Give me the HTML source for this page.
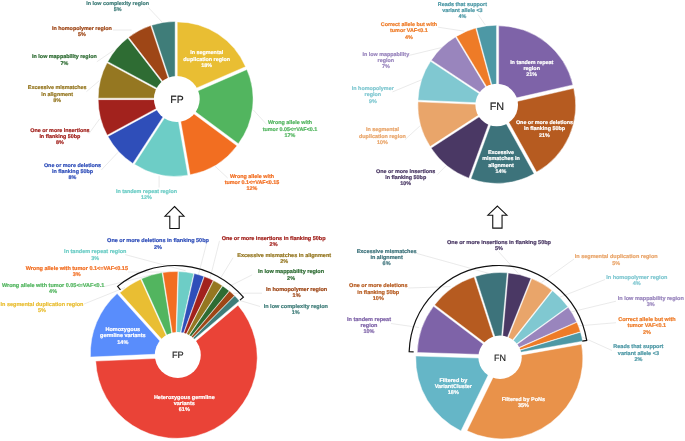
<!DOCTYPE html>
<html><head><meta charset="utf-8"><style>
html,body{margin:0;padding:0;background:#fff;}
body{width:685px;height:441px;overflow:hidden;}
svg{display:block;will-change:transform;}
text{font-family:"Liberation Sans",sans-serif;font-weight:bold;text-rendering:geometricPrecision;}
</style></head><body>
<svg width="685" height="441" viewBox="0 0 685 441">
<rect width="685" height="441" fill="#fff"/>
<polyline points="148.3,7.4 162.2,22.2" fill="none" stroke="#d9d9d9" stroke-width="0.55"/><polyline points="113,30 131.5,30" fill="none" stroke="#d9d9d9" stroke-width="0.55"/><polyline points="96.8,61.8 113.8,50.2" fill="none" stroke="#d9d9d9" stroke-width="0.55"/><polyline points="86.5,91.6 99.3,80.7" fill="none" stroke="#d9d9d9" stroke-width="0.55"/><polyline points="88.8,133.8 99.7,118.8" fill="none" stroke="#d9d9d9" stroke-width="0.55"/><polyline points="101.3,170.0 118,152.3" fill="none" stroke="#d9d9d9" stroke-width="0.55"/><polyline points="159.1,187.5 159.1,175.8" fill="none" stroke="#d9d9d9" stroke-width="0.55"/><polyline points="227.7,178 215,166.2" fill="none" stroke="#d9d9d9" stroke-width="0.55"/><polyline points="266.7,124.5 253.4,110" fill="none" stroke="#d9d9d9" stroke-width="0.55"/><polyline points="478,14.5 485.3,25" fill="none" stroke="#d9d9d9" stroke-width="0.55"/><polyline points="438.1,27.2 464.4,31.2" fill="none" stroke="#d9d9d9" stroke-width="0.55"/><polyline points="409.1,55.4 441.7,47.5" fill="none" stroke="#d9d9d9" stroke-width="0.55"/><polyline points="392.5,91.9 421.1,80" fill="none" stroke="#d9d9d9" stroke-width="0.55"/><polyline points="404.9,139.7 419.9,126" fill="none" stroke="#d9d9d9" stroke-width="0.55"/><polyline points="437.3,174.6 446,165.8" fill="none" stroke="#d9d9d9" stroke-width="0.55"/><polyline points="206.5,243.8 198.4,274.8" fill="none" stroke="#d9d9d9" stroke-width="0.55"/><polyline points="219.5,240.9 210.2,277.7" fill="none" stroke="#d9d9d9" stroke-width="0.55"/><polyline points="233,257.8 220,279" fill="none" stroke="#d9d9d9" stroke-width="0.55"/><polyline points="252.2,274.8 229,286.5" fill="none" stroke="#d9d9d9" stroke-width="0.55"/><polyline points="262,293.2 233,293.2" fill="none" stroke="#d9d9d9" stroke-width="0.55"/><polyline points="260,306.5 240,300.5" fill="none" stroke="#d9d9d9" stroke-width="0.55"/><polyline points="125.2,254.6 185.7,270.8" fill="none" stroke="#d9d9d9" stroke-width="0.55"/><polyline points="128,272 170.5,272" fill="none" stroke="#d9d9d9" stroke-width="0.55"/><polyline points="104.5,286.5 151.7,274.8" fill="none" stroke="#d9d9d9" stroke-width="0.55"/><polyline points="84,304 125,287.5" fill="none" stroke="#d9d9d9" stroke-width="0.55"/><polyline points="416.3,253.3 489.8,273.7" fill="none" stroke="#d9d9d9" stroke-width="0.55"/><polyline points="408.2,288 450.5,286.6" fill="none" stroke="#d9d9d9" stroke-width="0.55"/><polyline points="391,323.5 419,327.5" fill="none" stroke="#d9d9d9" stroke-width="0.55"/><polyline points="498.4,251.4 518.3,273.5" fill="none" stroke="#d9d9d9" stroke-width="0.55"/><polyline points="574,259 541.4,282.5" fill="none" stroke="#d9d9d9" stroke-width="0.55"/><polyline points="605,279.5 559.8,297.2" fill="none" stroke="#d9d9d9" stroke-width="0.55"/><polyline points="616,301.2 570.9,312" fill="none" stroke="#d9d9d9" stroke-width="0.55"/><polyline points="616,322.7 577,326" fill="none" stroke="#d9d9d9" stroke-width="0.55"/><polyline points="612,350.5 581,336.5" fill="none" stroke="#d9d9d9" stroke-width="0.55"/>
<path d="M177.24,96.39L177.24,21.89A74.5,74.5 0 0 1 245.57,66.68Z" fill="#E9BE33" stroke="#fff" stroke-width="0.45"/>
<path d="M178.58,99.24L246.90,69.54A74.5,74.5 0 0 1 238.39,143.66Z" fill="#52B55F" stroke="#fff" stroke-width="0.45"/>
<path d="M177.18,101.45L236.99,145.87A74.5,74.5 0 0 1 190.11,174.82Z" fill="#F26E21" stroke="#fff" stroke-width="0.45"/>
<path d="M175.00,101.84L187.94,175.21A74.5,74.5 0 0 1 134.43,164.32Z" fill="#6DCDC6" stroke="#fff" stroke-width="0.45"/>
<path d="M173.40,100.94L132.82,163.42A74.5,74.5 0 0 1 107.93,136.48Z" fill="#2F4EB9" stroke="#fff" stroke-width="0.45"/>
<path d="M172.69,99.64L107.22,135.19A74.5,74.5 0 0 1 98.19,99.64Z" fill="#A2221D" stroke="#fff" stroke-width="0.45"/>
<path d="M172.69,98.17L98.19,98.17A74.5,74.5 0 0 1 107.10,62.85Z" fill="#957721" stroke="#fff" stroke-width="0.45"/>
<path d="M173.31,96.96L107.72,61.64A74.5,74.5 0 0 1 127.75,38.01Z" fill="#2E6C33" stroke="#fff" stroke-width="0.45"/>
<path d="M174.19,96.25L128.63,37.31A74.5,74.5 0 0 1 150.67,25.56Z" fill="#9E4616" stroke="#fff" stroke-width="0.45"/>
<path d="M175.12,95.94L151.60,25.25A74.5,74.5 0 0 1 175.12,21.44Z" fill="#3F7D79" stroke="#fff" stroke-width="0.45"/>
<circle cx="176.8" cy="99" r="22.9" fill="#fff"/>
<text x="176.95" y="103" font-size="10.4" fill="#1e1e1e" stroke="#1e1e1e" stroke-width="0.15" text-anchor="middle" style="font-weight:normal">FP</text>
<path d="M498.66,102.03L498.66,25.83A76.2,76.2 0 0 1 572.90,84.89Z" fill="#7E63A8" stroke="#fff" stroke-width="0.45"/>
<path d="M499.50,105.48L573.75,88.34A76.2,76.2 0 0 1 536.56,172.06Z" fill="#B65B20" stroke="#fff" stroke-width="0.45"/>
<path d="M497.08,107.19L534.14,173.77A76.2,76.2 0 0 1 470.89,178.75Z" fill="#3D737B" stroke="#fff" stroke-width="0.45"/>
<path d="M495.04,106.57L468.86,178.13A76.2,76.2 0 0 1 431.14,148.07Z" fill="#4A3864" stroke="#fff" stroke-width="0.45"/>
<path d="M494.05,105.07L430.15,146.57A76.2,76.2 0 0 1 417.92,101.87Z" fill="#E9A56A" stroke="#fff" stroke-width="0.45"/>
<path d="M494.09,103.41L417.96,100.22A76.2,76.2 0 0 1 430.55,61.35Z" fill="#80C8D1" stroke="#fff" stroke-width="0.45"/>
<path d="M494.84,102.21L431.30,60.15A76.2,76.2 0 0 1 455.48,36.96Z" fill="#9985BD" stroke="#fff" stroke-width="0.45"/>
<path d="M495.71,101.63L456.35,36.39A76.2,76.2 0 0 1 475.73,28.10Z" fill="#EE7B27" stroke="#fff" stroke-width="0.45"/>
<path d="M496.47,101.43L476.49,27.89A76.2,76.2 0 0 1 496.47,25.23Z" fill="#4D98A5" stroke="#fff" stroke-width="0.45"/>
<circle cx="496.7" cy="105" r="21.3" fill="#fff"/>
<text x="496.95" y="109.7" font-size="10.8" fill="#1e1e1e" stroke="#1e1e1e" stroke-width="0.15" text-anchor="middle" style="font-weight:normal">FN</text>
<path d="M173.90,352.80L119.84,292.76A80.8,80.8 0 0 1 140.65,279.16Z" fill="#E9BE33" stroke="#fff" stroke-width="0.45"/>
<path d="M174.71,352.43L141.46,278.79A80.8,80.8 0 0 1 162.07,272.62Z" fill="#52B55F" stroke="#fff" stroke-width="0.45"/>
<path d="M175.41,352.31L162.77,272.50A80.8,80.8 0 0 1 177.94,271.55Z" fill="#F26E21" stroke="#fff" stroke-width="0.45"/>
<path d="M175.99,352.32L178.53,271.56A80.8,80.8 0 0 1 193.75,273.50Z" fill="#6DCDC6" stroke="#fff" stroke-width="0.45"/>
<path d="M176.47,352.42L194.23,273.60A80.8,80.8 0 0 1 203.97,276.45Z" fill="#2F4EB9" stroke="#fff" stroke-width="0.45"/>
<path d="M176.83,352.55L204.33,276.58A80.8,80.8 0 0 1 213.26,280.43Z" fill="#A2221D" stroke="#fff" stroke-width="0.45"/>
<path d="M177.17,352.73L213.60,280.61A80.8,80.8 0 0 1 222.35,285.74Z" fill="#957721" stroke="#fff" stroke-width="0.45"/>
<path d="M177.46,352.92L222.65,285.94A80.8,80.8 0 0 1 229.29,290.94Z" fill="#2E6C33" stroke="#fff" stroke-width="0.45"/>
<path d="M177.69,353.11L229.52,291.12A80.8,80.8 0 0 1 234.52,295.67Z" fill="#9E4616" stroke="#fff" stroke-width="0.45"/>
<path d="M177.87,353.29L234.71,295.86A80.8,80.8 0 0 1 239.41,300.92Z" fill="#3F7D79" stroke="#fff" stroke-width="0.45"/>
<path d="M176.44,357.54L237.97,305.17A80.8,80.8 0 1 1 95.72,361.07Z" fill="#EA4337" stroke="#fff" stroke-width="0.45"/>
<path d="M171.17,353.54L90.45,357.07A80.8,80.8 0 0 1 117.11,293.50Z" fill="#598DFC" stroke="#fff" stroke-width="0.45"/>
<circle cx="177.8" cy="355" r="23" fill="#fff"/>
<text x="177.75" y="357.9" font-size="9.2" fill="#1e1e1e" stroke="#1e1e1e" stroke-width="0.15" text-anchor="middle" style="font-weight:normal">FP</text>
<path d="M497.67,355.00L417.21,352.47A80.5,80.5 0 0 1 433.55,306.33Z" fill="#7E63A8" stroke="#fff" stroke-width="0.45"/>
<path d="M498.77,353.55L434.64,304.88A80.5,80.5 0 0 1 474.09,276.93Z" fill="#B65B20" stroke="#fff" stroke-width="0.45"/>
<path d="M500.17,353.02L475.49,276.39A80.5,80.5 0 0 1 507.24,272.83Z" fill="#3D737B" stroke="#fff" stroke-width="0.45"/>
<path d="M501.19,353.08L508.27,272.89A80.5,80.5 0 0 1 530.96,278.29Z" fill="#4A3864" stroke="#fff" stroke-width="0.45"/>
<path d="M502.00,353.40L531.76,278.61A80.5,80.5 0 0 1 551.89,290.23Z" fill="#E9A56A" stroke="#fff" stroke-width="0.45"/>
<path d="M502.67,353.92L552.56,290.75A80.5,80.5 0 0 1 567.87,306.72Z" fill="#80C8D1" stroke="#fff" stroke-width="0.45"/>
<path d="M503.10,354.50L568.31,307.30A80.5,80.5 0 0 1 576.70,321.89Z" fill="#9985BD" stroke="#fff" stroke-width="0.45"/>
<path d="M503.31,354.96L576.91,322.35A80.5,80.5 0 0 1 580.42,331.83Z" fill="#EE7B27" stroke="#fff" stroke-width="0.45"/>
<path d="M503.42,355.30L580.52,332.17A80.5,80.5 0 0 1 582.67,341.19Z" fill="#4D98A5" stroke="#fff" stroke-width="0.45"/>
<path d="M502.31,358.39L581.56,344.28A80.5,80.5 0 0 1 467.02,430.75Z" fill="#E9924A" stroke="#fff" stroke-width="0.45"/>
<path d="M496.22,358.58L460.93,430.94A80.5,80.5 0 0 1 415.76,356.05Z" fill="#65B6C7" stroke="#fff" stroke-width="0.45"/>
<circle cx="500.05" cy="357.25" r="21.7" fill="#fff"/>
<text x="499.9" y="360.5" font-size="9.0" fill="#1e1e1e" stroke="#1e1e1e" stroke-width="0.15" text-anchor="middle" style="font-weight:normal">FN</text>
<path d="M120.48,289.79L117.59,286.34A89.5,89.5 0 0 1 243.36,297.23L239.92,300.14" fill="none" stroke="#111" stroke-width="1.2" stroke-linejoin="miter"/>
<path d="M413.65,351.94L409.15,351.78A89.4,89.4 0 0 1 586.72,340.45L582.28,341.18" fill="none" stroke="#111" stroke-width="1.2" stroke-linejoin="miter"/>
<polygon points="174.50,206.50 184.00,216.20 179.20,216.20 179.20,228.50 169.80,228.50 169.80,216.20 165.00,216.20" fill="#fff" stroke="#111" stroke-width="1.1"/>
<polygon points="497.40,206.10 506.90,215.20 502.05,215.20 502.05,228.10 492.75,228.10 492.75,215.20 487.90,215.20" fill="#fff" stroke="#111" stroke-width="1.1"/>
<text x="117.6" y="4.5" fill="#3F7D79" stroke="#3F7D79" stroke-width="0.2" font-size="5.4" text-anchor="middle"><tspan x="117.6" y="4.5">In low complexity region</tspan><tspan x="117.6" y="10.75">5%</tspan></text><text x="81.9" y="29.9" fill="#9E4616" stroke="#9E4616" stroke-width="0.2" font-size="5.4" text-anchor="middle"><tspan x="81.9" y="29.9">In homopolymer region</tspan><tspan x="81.9" y="36.15">5%</tspan></text><text x="64.4" y="58.4" fill="#2E6C33" stroke="#2E6C33" stroke-width="0.2" font-size="5.4" text-anchor="middle"><tspan x="64.4" y="58.4">In low mappability region</tspan><tspan x="64.4" y="64.65">7%</tspan></text><text x="57.2" y="89.4" fill="#957721" stroke="#957721" stroke-width="0.2" font-size="5.4" text-anchor="middle"><tspan x="57.2" y="89.4">Excessive mismatches</tspan><tspan x="57.2" y="95.65">in alignment</tspan><tspan x="57.2" y="101.90">8%</tspan></text><text x="59.9" y="131.6" fill="#A2221D" stroke="#A2221D" stroke-width="0.2" font-size="5.4" text-anchor="middle"><tspan x="59.9" y="131.6">One or more insertions</tspan><tspan x="59.9" y="137.85">in flanking 50bp</tspan><tspan x="59.9" y="144.10">8%</tspan></text><text x="72.5" y="166.7" fill="#2F4EB9" stroke="#2F4EB9" stroke-width="0.2" font-size="5.4" text-anchor="middle"><tspan x="72.5" y="166.7">One or more deletions</tspan><tspan x="72.5" y="172.95">in flanking 50bp</tspan><tspan x="72.5" y="179.20">8%</tspan></text><text x="146.45" y="192.5" fill="#6DCDC6" stroke="#6DCDC6" stroke-width="0.2" font-size="5.4" text-anchor="middle"><tspan x="146.45" y="192.5">In tandem repeat region</tspan><tspan x="146.45" y="198.75">12%</tspan></text><text x="252" y="177.7" fill="#F26E21" stroke="#F26E21" stroke-width="0.2" font-size="5.4" text-anchor="middle"><tspan x="252" y="177.7">Wrong allele with</tspan><tspan x="252" y="183.95">tumor 0.1&lt;=VAF&lt;0.15</tspan><tspan x="252" y="190.20">12%</tspan></text><text x="290" y="124.4" fill="#52B55F" stroke="#52B55F" stroke-width="0.2" font-size="5.4" text-anchor="middle"><tspan x="290" y="124.4">Wrong allele with</tspan><tspan x="290" y="130.65">tumor 0.05&lt;=VAF&lt;0.1</tspan><tspan x="290" y="136.90">17%</tspan></text><text x="206.7" y="54.4" fill="#fff" stroke="#fff" stroke-width="0.2" font-size="5.4" text-anchor="middle"><tspan x="206.7" y="54.4">In segmental</tspan><tspan x="206.7" y="60.65">duplication region</tspan><tspan x="206.7" y="66.90">18%</tspan></text><text x="462.4" y="5.8" fill="#4D98A5" stroke="#4D98A5" stroke-width="0.2" font-size="5.4" text-anchor="middle"><tspan x="462.4" y="5.8">Reads that support</tspan><tspan x="462.4" y="12.05">variant allele &lt;3</tspan><tspan x="462.4" y="18.30">4%</tspan></text><text x="408.9" y="26" fill="#EE7B27" stroke="#EE7B27" stroke-width="0.2" font-size="5.4" text-anchor="middle"><tspan x="408.9" y="26">Correct allele but with</tspan><tspan x="408.9" y="32.25">tumor VAF&lt;0.1</tspan><tspan x="408.9" y="38.50">4%</tspan></text><text x="385.8" y="55.7" fill="#9985BD" stroke="#9985BD" stroke-width="0.2" font-size="5.4" text-anchor="middle"><tspan x="385.8" y="55.7">In low mappability</tspan><tspan x="385.8" y="61.95">region</tspan><tspan x="385.8" y="68.20">7%</tspan></text><text x="372.8" y="90.2" fill="#80C8D1" stroke="#80C8D1" stroke-width="0.2" font-size="5.4" text-anchor="middle"><tspan x="372.8" y="90.2">In homopolymer</tspan><tspan x="372.8" y="96.45">region</tspan><tspan x="372.8" y="102.70">9%</tspan></text><text x="382.4" y="131.4" fill="#E9A56A" stroke="#E9A56A" stroke-width="0.2" font-size="5.4" text-anchor="middle"><tspan x="382.4" y="131.4">In segmental</tspan><tspan x="382.4" y="137.65">duplication region</tspan><tspan x="382.4" y="143.90">10%</tspan></text><text x="405.7" y="172.6" fill="#4A3864" stroke="#4A3864" stroke-width="0.2" font-size="5.4" text-anchor="middle"><tspan x="405.7" y="172.6">One or more insertions</tspan><tspan x="405.7" y="178.85">in flanking 50bp</tspan><tspan x="405.7" y="185.10">10%</tspan></text><text x="531.7" y="63.5" fill="#fff" stroke="#fff" stroke-width="0.2" font-size="5.4" text-anchor="middle"><tspan x="531.7" y="63.5">In tandem repeat</tspan><tspan x="531.7" y="69.75">region</tspan><tspan x="531.7" y="76.00">21%</tspan></text><text x="544.5" y="124" fill="#fff" stroke="#fff" stroke-width="0.2" font-size="5.4" text-anchor="middle"><tspan x="544.5" y="124">One or more deletions</tspan><tspan x="544.5" y="130.25">in flanking 50bp</tspan><tspan x="544.5" y="136.50">21%</tspan></text><text x="501" y="154.2" fill="#fff" stroke="#fff" stroke-width="0.2" font-size="5.4" text-anchor="middle"><tspan x="501" y="154.2">Excessive</tspan><tspan x="501" y="160.45">mismatches in</tspan><tspan x="501" y="166.70">alignment</tspan><tspan x="501" y="172.95">14%</tspan></text><text x="158.0" y="242.4" fill="#2F4EB9" stroke="#2F4EB9" stroke-width="0.2" font-size="5.5" text-anchor="middle"><tspan x="158.0" y="242.4">One or more deletions in flanking 50bp</tspan><tspan x="158.0" y="248.65">2%</tspan></text><text x="95.3" y="253.4" fill="#6DCDC6" stroke="#6DCDC6" stroke-width="0.2" font-size="5.5" text-anchor="middle"><tspan x="95.3" y="253.4">In tandem repeat region</tspan><tspan x="95.3" y="259.65">3%</tspan></text><text x="76.8" y="270.0" fill="#F26E21" stroke="#F26E21" stroke-width="0.2" font-size="5.5" text-anchor="middle"><tspan x="76.8" y="270.0">Wrong allele with tumor 0.1&lt;=VAF&lt;0.15</tspan><tspan x="76.8" y="276.25">3%</tspan></text><text x="53.1" y="286.6" fill="#52B55F" stroke="#52B55F" stroke-width="0.2" font-size="5.5" text-anchor="middle"><tspan x="53.1" y="286.6">Wrong allele with tumor 0.05&lt;=VAF&lt;0.1</tspan><tspan x="53.1" y="292.85">4%</tspan></text><text x="42.0" y="306.0" fill="#E9BE33" stroke="#E9BE33" stroke-width="0.2" font-size="5.5" text-anchor="middle"><tspan x="42.0" y="306.0">In segmental duplication region</tspan><tspan x="42.0" y="312.25">5%</tspan></text><text x="273.6" y="239.8" fill="#A2221D" stroke="#A2221D" stroke-width="0.2" font-size="5.5" text-anchor="middle"><tspan x="273.6" y="239.8">One or more insertions in flanking 50bp</tspan><tspan x="273.6" y="246.05">2%</tspan></text><text x="284.2" y="256.5" fill="#957721" stroke="#957721" stroke-width="0.2" font-size="5.5" text-anchor="middle"><tspan x="284.2" y="256.5">Excessive mismatches in alignment</tspan><tspan x="284.2" y="262.75">2%</tspan></text><text x="291.1" y="273.4" fill="#2E6C33" stroke="#2E6C33" stroke-width="0.2" font-size="5.5" text-anchor="middle"><tspan x="291.1" y="273.4">In low mappability region</tspan><tspan x="291.1" y="279.65">2%</tspan></text><text x="296.6" y="291.2" fill="#9E4616" stroke="#9E4616" stroke-width="0.2" font-size="5.5" text-anchor="middle"><tspan x="296.6" y="291.2">In homopolymer region</tspan><tspan x="296.6" y="297.45">1%</tspan></text><text x="295.8" y="307.9" fill="#3F7D79" stroke="#3F7D79" stroke-width="0.2" font-size="5.5" text-anchor="middle"><tspan x="295.8" y="307.9">In low complexity region</tspan><tspan x="295.8" y="314.15">1%</tspan></text><text x="122.8" y="331.2" fill="#fff" stroke="#fff" stroke-width="0.2" font-size="5.5" text-anchor="middle"><tspan x="122.8" y="331.2">Homozygous</tspan><tspan x="122.8" y="337.45">germline variants</tspan><tspan x="122.8" y="343.70">14%</tspan></text><text x="184.3" y="398.5" fill="#fff" stroke="#fff" stroke-width="0.2" font-size="5.5" text-anchor="middle"><tspan x="184.3" y="398.5">Heterozygous germline</tspan><tspan x="184.3" y="404.75">variants</tspan><tspan x="184.3" y="411.00">61%</tspan></text><text x="386.6" y="252.6" fill="#3D737B" stroke="#3D737B" stroke-width="0.2" font-size="5.5" text-anchor="middle"><tspan x="386.6" y="252.6">Excessive mismatches</tspan><tspan x="386.6" y="258.85">in alignment</tspan><tspan x="386.6" y="265.10">6%</tspan></text><text x="378.3" y="287.3" fill="#B65B20" stroke="#B65B20" stroke-width="0.2" font-size="5.5" text-anchor="middle"><tspan x="378.3" y="287.3">One or more deletions</tspan><tspan x="378.3" y="293.55">in flanking 50bp</tspan><tspan x="378.3" y="299.80">10%</tspan></text><text x="369.0" y="320.9" fill="#7E63A8" stroke="#7E63A8" stroke-width="0.2" font-size="5.5" text-anchor="middle"><tspan x="369.0" y="320.9">In tandem repeat</tspan><tspan x="369.0" y="327.15">region</tspan><tspan x="369.0" y="333.40">10%</tspan></text><text x="499.0" y="243.7" fill="#4A3864" stroke="#4A3864" stroke-width="0.2" font-size="5.5" text-anchor="middle"><tspan x="499.0" y="243.7">One or more insertions in flanking 50bp</tspan><tspan x="499.0" y="249.95">5%</tspan></text><text x="616.2" y="258.3" fill="#E9A56A" stroke="#E9A56A" stroke-width="0.2" font-size="5.5" text-anchor="middle"><tspan x="616.2" y="258.3">In segmental duplication region</tspan><tspan x="616.2" y="264.55">5%</tspan></text><text x="636.8" y="278.7" fill="#80C8D1" stroke="#80C8D1" stroke-width="0.2" font-size="5.5" text-anchor="middle"><tspan x="636.8" y="278.7">In homopolymer region</tspan><tspan x="636.8" y="284.95">4%</tspan></text><text x="650.8" y="300.1" fill="#9985BD" stroke="#9985BD" stroke-width="0.2" font-size="5.5" text-anchor="middle"><tspan x="650.8" y="300.1">In low mappability region</tspan><tspan x="650.8" y="306.35">3%</tspan></text><text x="646.9" y="321.0" fill="#EE7B27" stroke="#EE7B27" stroke-width="0.2" font-size="5.5" text-anchor="middle"><tspan x="646.9" y="321.0">Correct allele but with</tspan><tspan x="646.9" y="327.25">tumor VAF&lt;0.1</tspan><tspan x="646.9" y="333.50">2%</tspan></text><text x="638.4" y="348.4" fill="#4D98A5" stroke="#4D98A5" stroke-width="0.2" font-size="5.5" text-anchor="middle"><tspan x="638.4" y="348.4">Reads that support</tspan><tspan x="638.4" y="354.65">variant allele &lt;3</tspan><tspan x="638.4" y="360.90">2%</tspan></text><text x="453.3" y="381.8" fill="#fff" stroke="#fff" stroke-width="0.2" font-size="5.5" text-anchor="middle"><tspan x="453.3" y="381.8">Filtered by</tspan><tspan x="453.3" y="388.05">VariantCluster</tspan><tspan x="453.3" y="394.30">18%</tspan></text><text x="523.4" y="400.8" fill="#fff" stroke="#fff" stroke-width="0.2" font-size="5.5" text-anchor="middle"><tspan x="523.4" y="400.8">Filtered by PoNs</tspan><tspan x="523.4" y="407.05">35%</tspan></text>
</svg>
</body></html>
